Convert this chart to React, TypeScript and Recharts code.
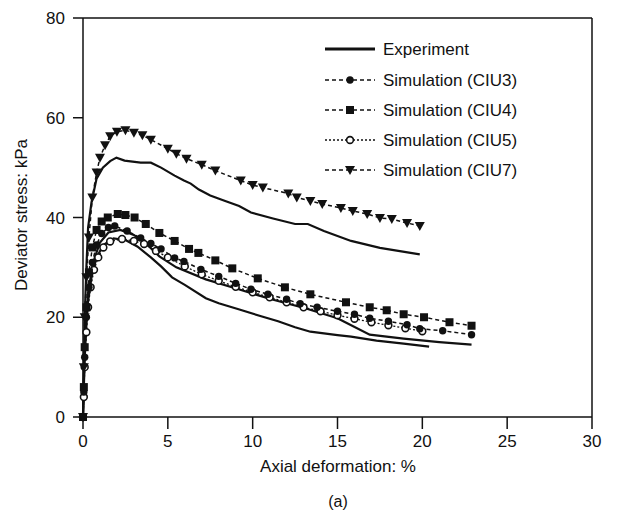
import { LineChart, Line, XAxis, YAxis, ReferenceLine } from 'recharts';

// [axial deformation %, deviator stress kPa]
const expUpper = [
  [0, 0], [0.05, 10], [0.1, 20], [0.2, 30], [0.3, 38], [0.5, 43], [0.8, 47.8], [1.17, 50],
  [1.6, 51.3], [1.97, 52], [2.45, 51.4], [3.4, 51], [4, 51], [4.6, 50], [5.4, 48.4],
  [5.95, 47.4], [6.35, 46.8], [6.83, 45.6], [7.5, 44.4], [8.3, 43.4], [9.2, 42.3], [9.9, 41],
  [11.2, 39.8], [12.5, 38.7], [13.25, 38.7], [14.2, 37.3], [15.8, 35.3], [17.5, 33.9], [19.85, 32.6],
];
const expMid = [
  [0, 0], [0.1, 14], [0.3, 25], [0.6, 31], [1, 35], [1.5, 37], [2.2, 37.5], [3, 36.5],
  [3.8, 34.5], [4.5, 32.2], [5.5, 30], [7.24, 27.6], [9.17, 25.6], [11.1, 23.6], [13.1, 21.8],
  [15, 19.8], [15.4, 19.1], [16.9, 16.5], [18.9, 15.7], [21, 15], [22.9, 14.5],
];
const expLow = [
  [0, 0], [0.1, 12], [0.25, 22], [0.5, 28], [0.8, 32], [1.2, 34.5], [1.8, 35.8], [2.5, 35.5],
  [3.2, 34.2], [4, 32], [4.6, 30.2], [5.25, 28], [6, 26.5], [7.24, 23.8], [8, 22.8], [9.17, 21.6],
  [10.5, 20.2], [11.5, 19.2], [12.5, 18], [13.4, 17.1], [15, 16.4], [15.8, 16.1], [17.3, 15.3],
  [18.9, 14.7], [20.4, 14.1],
];
const ciu3 = [
  [0, 0], [0.05, 5], [0.1, 12], [0.2, 20], [0.35, 26], [0.55, 31], [0.8, 34.5], [1.1, 36.8],
  [1.5, 38], [1.87, 38.3], [2.6, 37.3], [3.4, 35.9], [4, 34.8], [4.6, 33.7], [5.4, 31.9],
  [5.95, 31.2], [6.95, 29.6], [8, 28.2], [9, 26.8], [9.9, 25.6], [10.9, 24.6], [12, 23.6],
  [12.8, 22.7], [13.8, 22], [15, 21.2], [16, 20.6], [16.9, 19.8], [18, 19.2], [19.1, 18.5],
  [19.85, 17.7], [21.2, 17.3], [22.9, 16.5],
];
const ciu4 = [
  [0, 0], [0.05, 6], [0.1, 14], [0.2, 22], [0.35, 29], [0.55, 34], [0.8, 37.5], [1.1, 39.2],
  [1.46, 40], [2.05, 40.7], [2.5, 40.5], [3.04, 40], [3.7, 38.7], [4.5, 36.9], [5.4, 35.3],
  [6.25, 33.7], [6.8, 32.9], [7.8, 31.4], [8.8, 29.8], [10.3, 27.8], [11.9, 26], [13.4, 24.6],
  [15.5, 23], [16.9, 22], [17.9, 21.4], [18.9, 20.6], [20.1, 20], [21.6, 19], [22.9, 18.3],
];
const ciu5 = [
  [0, 0], [0.05, 4], [0.1, 10], [0.2, 17], [0.3, 22], [0.45, 26], [0.65, 29.5], [0.9, 32],
  [1.2, 34], [1.6, 35.2], [2.3, 35.7], [3, 35.3], [3.6, 34.7], [4.3, 33.3], [5, 32], [6, 30.2],
  [7, 28.6], [8, 27.3], [9, 26.1], [10, 25], [11, 24], [12, 23], [13, 22], [14, 21.2],
  [15, 20.4], [16, 19.7], [17, 19], [18, 18.4], [19, 17.8], [20, 17.2],
];
const ciu7 = [
  [0, 0], [0.05, 10], [0.1, 20], [0.2, 28], [0.35, 36], [0.55, 44], [0.8, 49], [1, 52],
  [1.3, 54.5], [1.6, 56.3], [2, 57.2], [2.5, 57.5], [3, 57], [3.5, 56.5], [4, 55.6], [5, 53.8],
  [5.5, 52.8], [6.1, 51.8], [7, 50.6], [7.8, 49.4], [9.3, 47.4], [10, 46.5], [10.6, 46],
  [12.1, 44.8], [12.6, 44], [13.4, 43.3], [14.1, 42.7], [15.2, 41.9], [15.9, 41.3],
  [16.75, 40.7], [17.5, 39.9], [18.2, 39.7], [19.1, 38.9], [19.85, 38.3],
];

const xTicks = [0, 5, 10, 15, 20, 25, 30];
const yTicks = [0, 20, 40, 60, 80];

const legendItems = ['Experiment', 'Simulation (CIU3)', 'Simulation (CIU4)', 'Simulation (CIU5)', 'Simulation (CIU7)'];

const toPts = (arr: number[][]) => arr.map(([x, y]) => ({ x, y }));

const INK = '#111';
const FONT = '"Liberation Sans", Arial, sans-serif';

const dotCircle = (p: any) => <circle key={p.index} cx={p.cx} cy={p.cy} r={3.7} fill={INK} />;
const dotOpen = (p: any) => <circle key={p.index} cx={p.cx} cy={p.cy} r={3.4} fill="#fff" stroke={INK} strokeWidth={1.6} />;
const dotSquare = (p: any) => <rect key={p.index} x={p.cx - 4} y={p.cy - 4} width={8} height={8} fill={INK} />;
const dotTri = (p: any) => (
  <path key={p.index} d={`M${p.cx - 5},${p.cy - 4}L${p.cx + 5},${p.cy - 4}L${p.cx},${p.cy + 5}Z`} fill={INK} />
);

function LegendBox() {
  const rows = [49, 80, 110, 140, 170];
  const mk = (i: number, cx: number, cy: number) => {
    if (i === 1) return <circle cx={cx} cy={cy} r={3.7} fill={INK} />;
    if (i === 2) return <rect x={cx - 4} y={cy - 4} width={8} height={8} fill={INK} />;
    if (i === 3) return <circle cx={cx} cy={cy} r={3.4} fill="#fff" stroke={INK} strokeWidth={1.6} />;
    if (i === 4) return <path d={`M${cx - 5},${cy - 4}L${cx + 5},${cy - 4}L${cx},${cy + 5}Z`} fill={INK} />;
    return null;
  };
  return (
    <svg width={623} height={518} style={{ position: 'absolute', left: 0, top: 0, pointerEvents: 'none' }}>
      {legendItems.map((t, i) => (
        <g key={t}>
          <line
            x1={325} x2={375} y1={rows[i]} y2={rows[i]} stroke={INK}
            strokeWidth={i === 0 ? 2.8 : 1.5}
            strokeDasharray={i === 0 ? undefined : i === 3 ? '2 2' : '4 3'}
          />
          {mk(i, 350, rows[i])}
          <text x={383} y={rows[i] + 6} fontSize={17} fontFamily={FONT} fill={INK}>{t}</text>
        </g>
      ))}
    </svg>
  );
}

export default function App() {
  return (
    <div style={{ position: 'absolute', left: 0, top: 0, width: 623, height: 518, background: '#fff', fontFamily: FONT }}>
      <LineChart width={623} height={518} margin={{ top: 18, right: 31, bottom: 0, left: 0 }}>
        <XAxis
          dataKey="x" type="number" domain={[0, 30]} ticks={xTicks} allowDuplicatedCategory={false}
          height={101} tickSize={12} tickMargin={6}
          stroke={INK} strokeWidth={1.5} tick={{ fontSize: 17, fill: INK, fontFamily: FONT }}
        />
        <YAxis
          dataKey="y" type="number" domain={[0, 80]} ticks={yTicks} width={83} tickSize={10} tickMargin={8}
          stroke={INK} strokeWidth={1.5} tick={{ fontSize: 17, fill: INK, fontFamily: FONT }}
        />
        <ReferenceLine y={80} stroke={INK} strokeWidth={1.5} />
        <ReferenceLine x={30} stroke={INK} strokeWidth={1.5} />
        <Line data={toPts(expUpper)} dataKey="y" stroke={INK} strokeWidth={2.2} dot={false} isAnimationActive={false} />
        <Line data={toPts(expMid)} dataKey="y" stroke={INK} strokeWidth={2.2} dot={false} isAnimationActive={false} />
        <Line data={toPts(expLow)} dataKey="y" stroke={INK} strokeWidth={2.2} dot={false} isAnimationActive={false} />
        <Line data={toPts(ciu5)} dataKey="y" stroke={INK} strokeWidth={1.3} strokeDasharray="2 2" dot={dotOpen} isAnimationActive={false} />
        <Line data={toPts(ciu3)} dataKey="y" stroke={INK} strokeWidth={1.5} strokeDasharray="4 3" dot={dotCircle} isAnimationActive={false} />
        <Line data={toPts(ciu4)} dataKey="y" stroke={INK} strokeWidth={1.5} strokeDasharray="4 3" dot={dotSquare} isAnimationActive={false} />
        <Line data={toPts(ciu7)} dataKey="y" stroke={INK} strokeWidth={1.5} strokeDasharray="4 3" dot={dotTri} isAnimationActive={false} />
      </LineChart>
      <LegendBox />
      <div style={{ position: 'absolute', left: 22, top: 215, transform: 'translate(-50%, -50%) rotate(-90deg)', whiteSpace: 'nowrap', fontSize: 17, color: INK }}>
        Deviator stress: kPa
      </div>
      <div style={{ position: 'absolute', left: 338, top: 467, transform: 'translate(-50%, -50%)', whiteSpace: 'nowrap', fontSize: 17, color: INK }}>
        Axial deformation: %
      </div>
      <div style={{ position: 'absolute', left: 338, top: 502, transform: 'translate(-50%, -50%)', whiteSpace: 'nowrap', fontSize: 16, color: INK }}>
        (a)
      </div>
    </div>
  );
}
